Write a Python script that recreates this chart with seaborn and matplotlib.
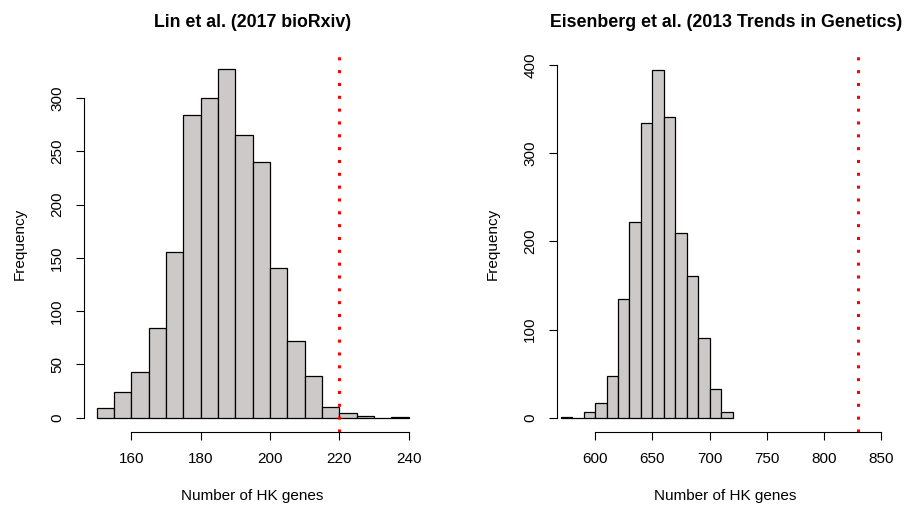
import matplotlib
matplotlib.use("Agg")
import matplotlib.pyplot as plt
import numpy as np
import seaborn as sns

# bin edges and counts
lin_edges = list(range(150, 245, 5))
lin_counts = [9, 24, 43, 84, 156, 284, 300, 327, 265, 240, 141, 72, 39, 10, 4, 2, 0, 1]
lin_observed = 220

eis_edges = list(range(570, 730, 10))
eis_counts = [1, 0, 7, 17, 47, 135, 222, 334, 395, 341, 210, 161, 90, 33, 7]
eis_observed = 830

lin_xticks = [160, 180, 200, 220, 240]
lin_yticks = [0, 50, 100, 150, 200, 250, 300]
eis_xticks = [600, 650, 700, 750, 800, 850]
eis_yticks = [0, 100, 200, 300, 400]

sns.set_theme(style="white")
plt.rcParams["font.family"] = ["Liberation Sans", "DejaVu Sans"]
plt.rcParams.update({"text.color": "black", "axes.labelcolor": "black",
                     "axes.titlecolor": "black"})

BAR = "#cdc9c9"
W, H = 907, 507


def draw_panel(ax, edges, counts, observed, title, xlim, ylim, xticks, yticks):
    mids = (np.array(edges[:-1]) + np.array(edges[1:])) / 2
    sns.histplot(x=mids, weights=counts, bins=edges, ax=ax, color=BAR,
                 edgecolor="black", linewidth=0.9, alpha=1)
    ax.axvline(observed, color="red", linewidth=2.2, linestyle=(0, (1, 3.2)))
    ax.set_xlim(*xlim)
    ax.set_ylim(*ylim)
    ax.set_xticks(xticks)
    ax.set_yticks(yticks)
    for side in ["top", "right"]:
        ax.spines[side].set_visible(False)
    ax.spines["left"].set_bounds(yticks[0], yticks[-1])
    ax.spines["bottom"].set_bounds(xticks[0], xticks[-1])
    for side in ["left", "bottom"]:
        ax.spines[side].set_color("black")
        ax.spines[side].set_linewidth(0.8)
    ax.tick_params(axis="both", direction="out", length=5.5, width=0.8,
                   colors="black", labelsize=11, pad=9, left=True, bottom=True)
    ax.tick_params(axis="y", labelrotation=90)
    for lab in ax.get_yticklabels():
        lab.set_va("center")
    ax.set_xlabel("Number of HK genes", fontsize=11, va="center")
    ax.set_ylabel("Frequency", fontsize=11, va="center")
    ax.xaxis.set_label_coords(0.5, -0.171)
    ax.yaxis.set_label_coords(-0.193, 0.5)
    ax.set_title(title, fontsize=12.8, fontweight="bold", y=1.089, va="center",
                 pad=0, color="black")


fig = plt.figure(figsize=(W / 100, H / 100), dpi=100)
ax1 = fig.add_axes([84.3 / W, (H - 431.6) / H, 336.7 / W, 376 / H])
ax2 = fig.add_axes([557.3 / W, (H - 431.6) / H, 336.7 / W, 376 / H])

draw_panel(ax1, lin_edges, lin_counts, lin_observed, "Lin et al. (2017 bioRxiv)",
           (146.4, 243.6), (-13.08, 340), lin_xticks, lin_yticks)
draw_panel(ax2, eis_edges, eis_counts, eis_observed,
           "Eisenberg et al. (2013 Trends in Genetics)",
           (567, 861), (-15.8, 411), eis_xticks, eis_yticks)

fig.savefig("out.png", dpi=100)
